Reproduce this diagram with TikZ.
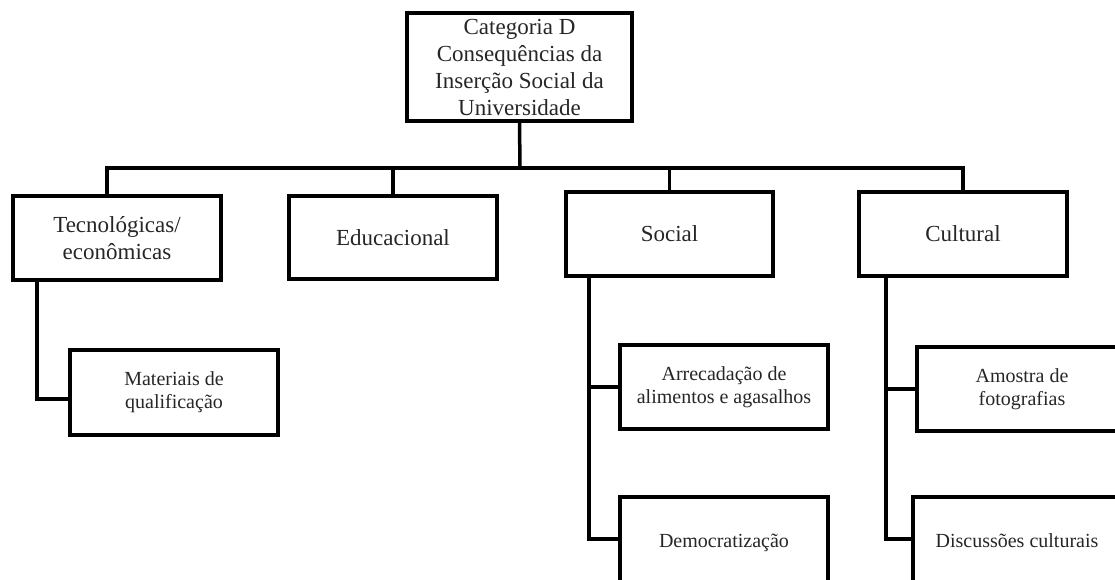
\documentclass[tikz,border=0pt]{standalone}
\usepackage{fontspec}
\setmainfont{Liberation Serif}
\begin{document}
\begin{tikzpicture}[x=1pt,y=-1pt,
  box/.style={draw, line width=3.3pt, rectangle, inner sep=0pt, align=center, text=black!85},
  big/.style={font=\fontsize{23}{27}\selectfont},
  small/.style={font=\fontsize{20}{23}\selectfont},
  conn/.style={line width=3.5pt}]
\useasboundingbox (0,0) rectangle (1115,579);
\clip (0,0) rectangle (1115,579);
\node[box,big,minimum width=225pt,minimum height=108pt] (top) at (519.5,67) {Categoria D\\Consequências da\\Inserção Social da\\Universidade};
\node[box,big,minimum width=208pt,minimum height=84pt] (tec) at (117,238) {Tecnológicas/\\econômicas};
\node[box,big,minimum width=208pt,minimum height=83pt] (edu) at (393,237.5) {Educacional};
\node[box,big,minimum width=207pt,minimum height=84pt] (soc) at (669.5,234) {Social};
\node[box,big,minimum width=208pt,minimum height=84pt] (cul) at (963,234) {Cultural};
\node[box,small,minimum width=208pt,minimum height=85pt] (mat) at (174,392.5) {Materiais de\\qualificação};
\node[box,small,minimum width=208pt,minimum height=84pt] (arr) at (724,387) {Arrecadação de\\alimentos e agasalhos};
\node[box,small,minimum width=208pt,minimum height=92pt] (dem) at (724,543) {\raisebox{4pt}{Democratização}};
\node[box,small,minimum width=210pt,minimum height=84pt] (amo) at (1022,389) {Amostra de\\fotografias};
\node[box,small,minimum width=208pt,minimum height=92pt] (dis) at (1017,543) {\raisebox{4pt}{Discussões culturais}};
\coordinate (j) at (520,168);
\coordinate (tecst) at ([xshift=-10pt]tec.north);
\coordinate (tecv) at ([xshift=-80pt]tec.south);
\coordinate (socv) at ([xshift=-80.5pt]soc.south);
\coordinate (culv) at ([xshift=-77pt]cul.south);
\coordinate (matc) at ([yshift=-6.5pt]mat.west);
\coordinate (demc) at ([yshift=4pt]dem.west);
\coordinate (disc) at ([yshift=4pt]dis.west);
\draw[conn] (top.south) -- (j);
\draw[conn] (tecst) |- (j) -| (cul.north);
\draw[conn] (edu.north) -- (edu.north |- j);
\draw[conn] (soc.north) -- (soc.north |- j);
\draw[conn] (tecv) |- (matc);
\draw[conn] (socv) |- (demc);
\draw[conn] (arr.west) -- (arr.west -| socv);
\draw[conn] (culv) |- (disc);
\draw[conn] (amo.west) -- (amo.west -| culv);
\end{tikzpicture}
\end{document}
